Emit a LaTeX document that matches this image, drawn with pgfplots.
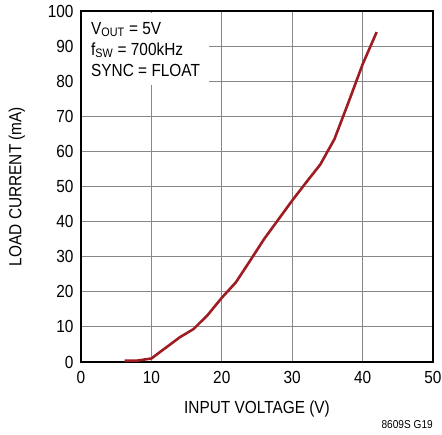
\documentclass[border=0pt]{standalone}
\usepackage{fontspec}
\setmainfont{Liberation Sans}[FakeStretch=0.88]
\usepackage{pgfplots}
\pgfplotsset{compat=1.18}
\definecolor{curve}{RGB}{158,28,34}
\definecolor{gridgray}{RGB}{135,135,135}
\begin{document}
\begin{tikzpicture}
\useasboundingbox (-81pt,-73pt) rectangle (361pt,362pt);
\begin{axis}[
  at={(0pt,0pt)}, anchor=south west,
  width=352pt, height=351pt, scale only axis,
  xmin=0, xmax=50, ymin=0, ymax=100,
  xtick={0,10,...,50}, ytick={0,10,...,100},
  grid=major,
  major grid style={gridgray, line width=1.1pt},
  major tick length=0pt,
  axis line style={black, line width=1.6pt},
  /pgf/number format/assume math mode=true,
  tick label style={font=\fontsize{17.5}{19}\selectfont},
  xticklabel style={yshift=-6pt},
  yticklabel style={xshift=-4pt},
  label style={font=\fontsize{17.5}{19}\selectfont},
  xlabel={INPUT VOLTAGE (V)},
  ylabel={LOAD CURRENT (mA)},
  xlabel style={at={(axis description cs:0.5,-0.133)}, anchor=center},
  ylabel style={at={(axis description cs:-0.182,0.5)}, anchor=center},
  clip=false,
  axis on top=false,
]
\addplot[curve, line width=2.6pt, line join=round, line cap=butt] coordinates {
(6.2,0.4) (8,0.4) (10,1.0) (12,4.0) (14,7.0) (16,9.4) (18,13.4) (20,18.3)
(22,22.7) (24,28.8) (26,35.0) (28,40.5) (30,46.0) (32,51.2) (34,56.3)
(36,63.5) (38,74.0) (40,84.8) (42,94.0)
};
\node[fill=white, anchor=north west, align=left, inner xsep=9pt, inner ysep=9pt,
  font=\fontsize{17.5}{21}\selectfont]
  at ([xshift=1pt,yshift=-2pt]rel axis cs:0,1)
  {V\textsubscript{OUT} = 5V\\f\textsubscript{SW} = 700kHz\\SYNC = FLOAT};
\node[anchor=base east, font=\fontsize{11.5}{12}\selectfont, inner sep=0pt]
  at ([yshift=-67pt]rel axis cs:1,0) {8609S G19};
\end{axis}
\end{tikzpicture}
\end{document}
